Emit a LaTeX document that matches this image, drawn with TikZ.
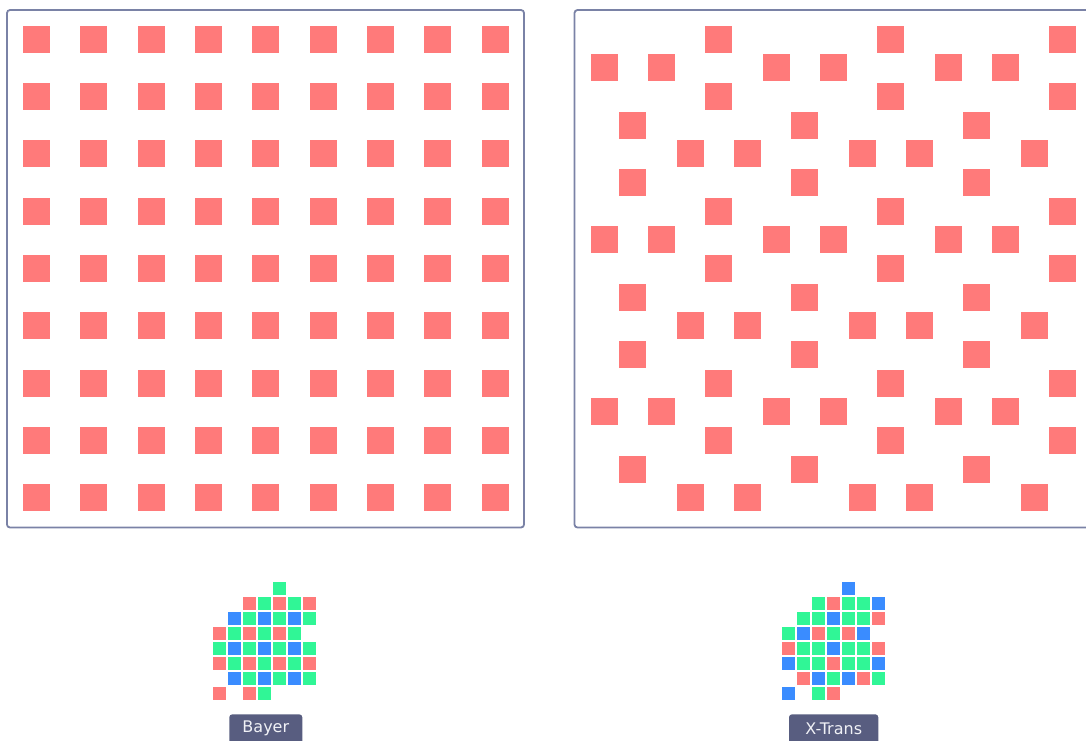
\documentclass[tikz,border=0pt]{standalone}
\usepackage{fontspec}
\setmainfont{DejaVu Sans}
\definecolor{sqred}{RGB}{255,122,122}
\definecolor{sqgreen}{RGB}{48,246,150}
\definecolor{sqblue}{RGB}{58,140,255}
\definecolor{framec}{RGB}{122,130,166}
\definecolor{labelbg}{RGB}{88,93,128}
\definecolor{labeltx}{RGB}{240,241,246}
\tikzset{
  bigsq/.style={fill=sqred},
  frame/.style={draw=framec, line width=1.8pt, rounded corners=3pt},
  cellR/.style={fill=sqred},
  cellG/.style={fill=sqgreen},
  cellB/.style={fill=sqblue},
  labelbox/.style={fill=labelbg, rounded corners=3pt},
  labeltext/.style={text=labeltx, font=\fontsize{16}{19}\selectfont, inner sep=0pt}
}
\begin{document}
\begin{tikzpicture}[x=1pt,y=-1pt]
\useasboundingbox (0,0) rectangle (1086,740);
\clip (0,0) rectangle (1086,740);
% frames
\draw[frame] (7,10) rectangle (524,527.5);
\draw[frame] (574.5,10) rectangle (1091.5,527.5);
% Bayer red samples
\foreach \i in {0,...,8}{
  \foreach \j in {0,...,8}{
    \fill[bigsq] ({23+57.333*\i},{25.5+57.333*\j}) rectangle ++(27,27);
  }
}
% X-Trans red samples
\foreach \R in {0,6,12}{
  \foreach \c in {4,10,16}{
    \fill[bigsq] ({590.7+28.667*\c},{25.5+28.667*\R}) rectangle ++(27,27);
    \fill[bigsq] ({590.7+28.667*\c},{25.5+28.667*(\R+2)}) rectangle ++(27,27);
  }
  \foreach \c in {0,2,6,8,12,14}{
    \fill[bigsq] ({590.7+28.667*\c},{25.5+28.667*(\R+1)}) rectangle ++(27,27);
  }
  \foreach \c in {1,7,13}{
    \fill[bigsq] ({590.7+28.667*\c},{25.5+28.667*(\R+3)}) rectangle ++(27,27);
    \ifnum\R<12
      \fill[bigsq] ({590.7+28.667*\c},{25.5+28.667*(\R+5)}) rectangle ++(27,27);
    \fi
  }
  \foreach \c in {3,5,9,11,15}{
    \fill[bigsq] ({590.7+28.667*\c},{25.5+28.667*(\R+4)}) rectangle ++(27,27);
  }
}
% Bayer mosaic
\foreach \c/\r/\k in {
  4/0/G,
  2/1/R,3/1/G,4/1/R,5/1/G,6/1/R,
  1/2/B,2/2/G,3/2/B,4/2/G,5/2/B,6/2/G,
  0/3/R,1/3/G,2/3/R,3/3/G,4/3/R,5/3/G,
  0/4/G,1/4/B,2/4/G,3/4/B,4/4/G,5/4/B,6/4/G,
  0/5/R,1/5/G,2/5/R,3/5/G,4/5/R,5/5/G,6/5/R,
  1/6/B,2/6/G,3/6/B,4/6/G,5/6/B,6/6/G,
  0/7/R,2/7/R,3/7/G}{
  \fill[cell\k] ({213.3+15*\c},{581.7+15*\r}) rectangle ++(13,13);
}
% X-Trans mosaic
\foreach \c/\r/\k in {
  4/0/B,
  2/1/G,3/1/R,4/1/G,5/1/G,6/1/B,
  1/2/G,2/2/G,3/2/B,4/2/G,5/2/G,6/2/R,
  0/3/G,1/3/B,2/3/R,3/3/G,4/3/R,5/3/B,
  0/4/R,1/4/G,2/4/G,3/4/B,4/4/G,5/4/G,6/4/R,
  0/5/B,1/5/G,2/5/G,3/5/R,4/5/G,5/5/G,6/5/B,
  1/6/R,2/6/B,3/6/G,4/6/B,5/6/R,6/6/G,
  0/7/B,2/7/G,3/7/R}{
  \fill[cell\k] ({781.7+15*\c},{581.7+15*\r}) rectangle ++(13,13);
}
% labels
\fill[labelbox] (229.3,714.3) rectangle (302.3,748);
\node[labeltext] (bayer) at (265.8,728.5) {Bayer};
\fill[labelbox] (789,714.3) rectangle (878.3,748);
\node[labeltext] (xtrans) at (833.7,728.5) {X-Trans};
\end{tikzpicture}
\end{document}
